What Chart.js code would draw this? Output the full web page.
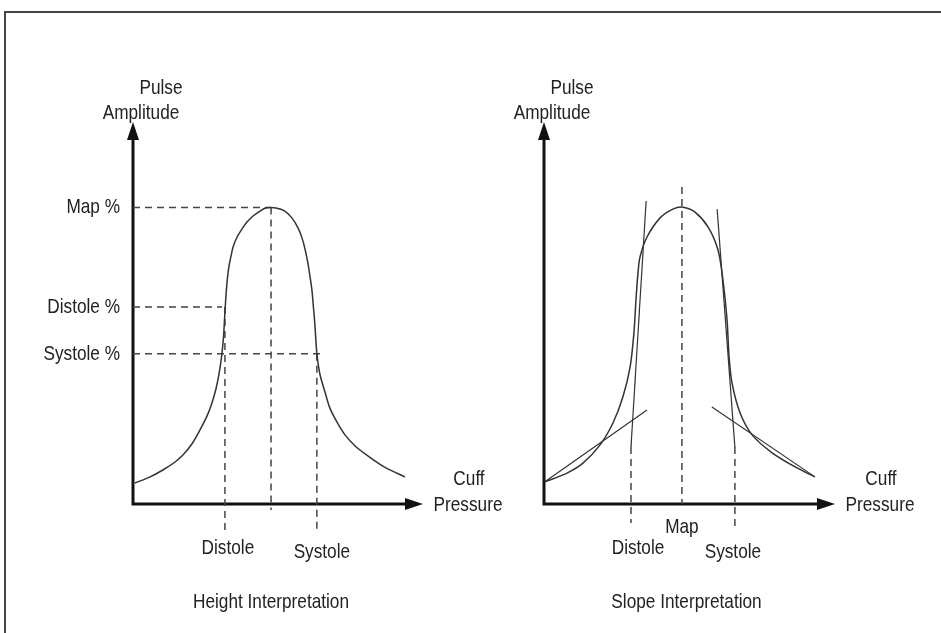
<!DOCTYPE html>
<html>
<head>
<meta charset="utf-8">
<script src="https://cdn.jsdelivr.net/npm/chart.js@4.4.1/dist/chart.umd.min.js"></script>
<style>
  html, body { margin: 0; padding: 0; background: #fff; }
  #wrap { position: relative; width: 941px; height: 633px; overflow: hidden; }
  #frame { position: absolute; left: 4px; top: 11px; width: 960px; height: 640px;
           border-top: 2px solid #444; border-left: 2px solid #444; }
  canvas { position: absolute; left: 0; top: 0; }
</style>
</head>
<body>
<div id="wrap">
  <div id="frame"></div>
  <canvas id="chart-height" width="941" height="633"></canvas>
  <canvas id="chart-slope" width="941" height="633"></canvas>
</div>
<script>
// pressure / amplitude on a 0-100 scale for both panels

// height interpretation envelope
var heightPressure = [0.7, 5.9, 10.3, 14.5, 17.2, 20.3, 23.1, 25.5, 27.2, 28.6, 29.6, 30.3, 30.8, 31.25, 31.55,
                      31.85, 32.2, 32.6, 33.1, 33.8, 34.5, 35.9, 37.6, 39.3, 41.4, 43.8, 45.5, 47.2,
                      49.3, 52.1, 54.8, 56.9, 58.3, 59.3, 60.3, 61.0, 61.7, 62.15, 62.6, 62.95, 63.3, 63.8,
                      64.6, 66.2, 67.9, 70.3, 73.1, 76.6, 81.0, 86.9, 93.8];
var heightAmplitude = [5.5, 7.1, 8.9, 11.0, 12.8, 15.7, 19.4, 23.0, 26.4, 30.1, 33.8, 37.2, 40.3, 44.2, 48.2,
                       52.1, 56.0, 59.4, 62.3, 64.9, 67.3, 69.9, 72.0, 73.8, 75.4, 76.7, 77.4, 77.6,
                       77.5, 76.8, 74.9, 72.3, 69.6, 66.8, 63.1, 59.7, 56.0, 52.1, 48.2, 44.2, 40.3, 36.9,
                       33.5, 29.3, 25.1, 21.5, 18.1, 15.2, 12.6, 9.6, 7.1];

// amplitude levels (y axis) and where their guides stop
var levelLabels = ['Map %', 'Distole %', 'Systole %'];
var levelValues = [77.6, 51.6, 39.3];
var levelEnds = [47.2, 30.7, 65.9];

// pressure marks (x axis) for height interpretation
var heightMarkLabels = ['Distole', 'Map', 'Systole'];
var heightMarkValues = [31.7, 47.6, 63.4];
var heightMarkTops = [51.6, 77.6, 39.3];
var heightMarkBottoms = [-7.1, -1.6, -7.1];

// slope interpretation envelope
var slopePressure = [0.3, 7.9, 13.4, 19.2, 23.7, 27.1, 29.6, 30.9, 31.6, 32.3, 33.0, 35.4, 39.9, 44.3, 47.8,
                     51.9, 56.4, 59.8, 61.5, 62.9, 63.6, 64.6, 67.4, 71.5, 78.4, 86.3, 93.1];
var slopeAmplitude = [5.8, 8.1, 10.7, 15.4, 21.2, 28.0, 35.9, 44.8, 53.4, 60.5, 64.7, 69.9, 74.9, 77.2, 77.7,
                      76.4, 72.5, 66.5, 58.6, 48.2, 38.5, 31.7, 23.8, 18.1, 13.4, 9.7, 7.1];

// tangent lines
var tangentLowLeft = [{x: 0.3, y: 5.8}, {x: 35.4, y: 24.6}];
var tangentSteepLeft = [{x: 35.1, y: 79.3}, {x: 29.9, y: 14.9}];
var tangentSteepRight = [{x: 59.5, y: 77.2}, {x: 65.6, y: 14.9}];
var tangentLowRight = [{x: 57.7, y: 25.4}, {x: 93.1, y: 7.1}];

// pressure marks for slope interpretation
var slopeMarkLabels = ['Distole', 'Map', 'Systole'];
var slopeMarkValues = [29.9, 47.4, 65.6];
var slopeMarkTops = [14.9, 83.0, 14.9];
var slopeMarkBottoms = [-5.0, 0, -6.0];

var INK = '#222';
var FONT = '21px "Liberation Sans", Arial, sans-serif';

function xy(xs, ys) {
    return xs.map(function (v, i) { return {x: v, y: ys[i]}; });
}

function curve(data) {
    return {data: data, borderColor: '#333', borderWidth: 1.5, pointRadius: 0,
            tension: 0.3, fill: false};
}
function dashed(data) {
    return {data: data, borderColor: '#444', borderWidth: 1.5, borderDash: [7, 5], pointRadius: 0,
            tension: 0, fill: false, clip: false};
}
function solid(data) {
    return {data: data, borderColor: '#333', borderWidth: 1.2, pointRadius: 0, tension: 0, fill: false, clip: false};
}

function text(ctx, s, px, py, align) {
    ctx.save();
    ctx.translate(px, py);
    ctx.scale(0.82, 1);   // condensed look
    ctx.font = FONT;
    ctx.fillStyle = INK;
    ctx.textAlign = align || 'center';
    ctx.textBaseline = 'middle';
    ctx.fillText(s, 0, 0);
    ctx.restore();
}

var diagram = {
    id: 'diagram',
    beforeDatasetsDraw: function (chart) {
        var ctx = chart.ctx, sx = chart.scales.x, sy = chart.scales.y;
        var x0 = sx.getPixelForValue(0), y0 = sy.getPixelForValue(0);
        var xTip = sx.getPixelForValue(100), yTop = sy.getPixelForValue(100);
        ctx.save();
        ctx.strokeStyle = '#111';
        ctx.fillStyle = '#111';
        ctx.lineWidth = 3;
        ctx.beginPath();
        ctx.moveTo(x0, yTop + 14);
        ctx.lineTo(x0, y0);
        ctx.lineTo(xTip - 14, y0);
        ctx.stroke();
        ctx.beginPath();
        ctx.moveTo(x0, yTop);
        ctx.lineTo(x0 - 6, yTop + 18);
        ctx.lineTo(x0 + 6, yTop + 18);
        ctx.closePath();
        ctx.fill();
        ctx.beginPath();
        ctx.moveTo(xTip, y0);
        ctx.lineTo(xTip - 18, y0 - 6);
        ctx.lineTo(xTip - 18, y0 + 6);
        ctx.closePath();
        ctx.fill();
        ctx.restore();
    },
    afterDatasetsDraw: function (chart, args, opts) {
        var ctx = chart.ctx, sx = chart.scales.x, sy = chart.scales.y;
        var x0 = sx.getPixelForValue(0), y0 = sy.getPixelForValue(0);
        var xTip = sx.getPixelForValue(100), yTop = sy.getPixelForValue(100);
        text(ctx, 'Pulse', x0 + 28, yTop - 34);
        text(ctx, 'Amplitude', x0 + 8, yTop - 9);
        text(ctx, 'Cuff', xTip + 46, y0 - 25);
        text(ctx, 'Pressure', xTip + 45, y0 + 1);
        (opts.levels || []).forEach(function (l) {
            text(ctx, l.text, x0 - 13, sy.getPixelForValue(l.value), 'right');
        });
        (opts.marks || []).forEach(function (m) {
            text(ctx, m.text, sx.getPixelForValue(m.value) + m.dx, y0 + m.dy);
        });
        text(ctx, opts.title, (x0 + xTip) / 2 + opts.titleDx, y0 + 98);
    }
};

function makeChart(id, datasets, pad, diagramOpts) {
    return new Chart(document.getElementById(id).getContext('2d'), {
        type: 'line',
        data: {datasets: datasets},
        options: {
            responsive: false,
            animation: false,
            layout: {padding: pad},
            scales: {
                x: {type: 'linear', min: 0, max: 100, display: false},
                y: {type: 'linear', min: 0, max: 100, display: false}
            },
            plugins: {legend: {display: false}, tooltip: {enabled: false}, diagram: diagramOpts}
        },
        plugins: [diagram]
    });
}

// Height interpretation
var heightSets = [curve(xy(heightPressure, heightAmplitude))];
levelValues.forEach(function (v, i) {
    heightSets.push(dashed([{x: 0, y: v}, {x: levelEnds[i], y: v}]));
});
heightMarkValues.forEach(function (v, i) {
    heightSets.push(dashed([{x: v, y: heightMarkTops[i]}, {x: v, y: heightMarkBottoms[i]}]));
});
makeChart('chart-height', heightSets, {left: 133, right: 518, top: 122, bottom: 129}, {
    title: 'Height Interpretation', titleDx: -7,
    levels: levelLabels.map(function (t, i) { return {text: t, value: levelValues[i]}; }),
    marks: [
        {text: heightMarkLabels[0], value: heightMarkValues[0], dx: 3, dy: 44},
        {text: heightMarkLabels[2], value: heightMarkValues[2], dx: 5, dy: 48}
    ]
});

// Slope interpretation
var slopeSets = [curve(xy(slopePressure, slopeAmplitude)),
                 solid(tangentLowLeft), solid(tangentSteepLeft), solid(tangentSteepRight), solid(tangentLowRight)];
slopeMarkValues.forEach(function (v, i) {
    slopeSets.push(dashed([{x: v, y: slopeMarkTops[i]}, {x: v, y: slopeMarkBottoms[i]}]));
});
makeChart('chart-slope', slopeSets, {left: 544, right: 106, top: 122, bottom: 129}, {
    title: 'Slope Interpretation', titleDx: -3,
    marks: [
        {text: slopeMarkLabels[0], value: slopeMarkValues[0], dx: 7, dy: 44},
        {text: slopeMarkLabels[1], value: slopeMarkValues[1], dx: 0, dy: 23},
        {text: slopeMarkLabels[2], value: slopeMarkValues[2], dx: -2, dy: 48}
    ]
});
</script>
</body>
</html>
